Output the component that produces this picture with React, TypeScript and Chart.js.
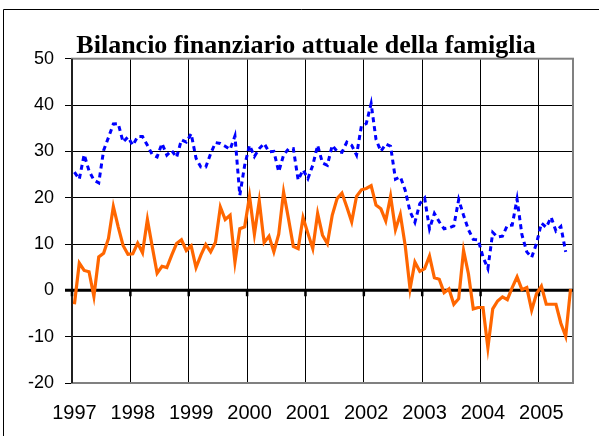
import React, { useEffect, useRef } from "react";
import { Chart, registerables } from "chart.js";

Chart.register(...registerables);

const TITLE = "Bilancio finanziario attuale della famiglia";
const YEAR_LABELS = ["1997", "1998", "1999", "2000", "2001", "2002", "2003", "2004", "2005"];
const MONTHS_PER_YEAR = 12;
const X_MAX_MONTHS = 103;
const Y_MIN = -20;
const Y_MAX = 50;
const Y_STEP = 10;

// monthly values from Jan 1997
const blueSeries = [
  25.5, 24.0, 29.3, 25.8, 23.8, 23.2, 30.2, 33.0, 35.9, 36.0, 32.0, 33.1,
  31.3, 33.2, 33.2, 31.3, 29.3, 28.8, 31.7, 29.2, 30.2, 28.7, 32.5, 32.0,
  33.8, 28.5, 26.6, 26.6, 29.5, 31.9, 31.7, 31.1, 30.4, 33.3, 20.5, 27.0,
  31.3, 28.9, 30.6, 31.7, 29.9, 30.0, 25.6, 29.2, 30.5, 30.6, 23.8, 26.0,
  24.1, 27.0, 31.3, 27.5, 27.0, 31.3, 30.0, 29.8, 32.0, 31.3, 29.2, 35.5,
  36.0, 40.3, 32.6, 30.0, 31.6, 31.1, 24.0, 24.5, 21.6, 17.0, 14.7, 18.7,
  19.9, 13.3, 16.6, 14.8, 13.3, 13.5, 13.9, 19.6, 16.2, 13.1, 11.0, 10.9,
  7.2, 4.7, 12.5, 11.5, 11.7, 14.0, 14.1, 19.7, 12.0, 8.3, 7.1, 10.1,
  14.5, 13.6, 15.8, 12.8, 13.8, 8.3,
];

const orangeSeries = [
  -3.0, 5.9, 4.3, 4.0, -1.3, 7.2, 8.0, 11.2, 18.1, 13.7, 9.7, 7.8,
  7.9, 10.2, 8.1, 15.3, 9.4, 3.7, 5.2, 4.9, 7.6, 10.1, 10.9, 8.6,
  9.6, 4.9, 7.6, 9.9, 8.3, 10.4, 18.0, 15.3, 16.2, 6.1, 13.3, 13.7,
  20.3, 12.1, 19.3, 10.3, 11.7, 8.3, 12.1, 21.2, 15.5, 9.5, 9.0, 15.7,
  12.3, 9.0, 16.6, 11.9, 10.1, 16.2, 19.8, 21.0, 18.0, 14.8, 20.3, 21.7,
  22.0, 22.6, 18.4, 17.6, 15.0, 20.3, 13.1, 16.4, 9.7, 0.3, 6.1, 4.1,
  4.7, 7.4, 2.7, 2.4, -0.5, 0.3, -3.0, -1.8, 8.6, 3.6, -4.0, -3.7,
  -3.7, -12.4, -4.0, -2.3, -1.4, -2.0, 0.6, 2.9, 0.15, 0.6, -4.3, -0.7,
  0.9, -3.0, -3.0, -3.0, -7.1, -9.9, 0.3,
];

const toPoints = (values: number[]) => values.map((v, i) => ({ x: i + 0.5, y: v }));

const framePlugin = {
  id: "frameAndAxes",
  beforeDraw(chart: any) {
    const ctx = chart.ctx;
    ctx.save();
    ctx.fillStyle = "#ffffff";
    ctx.fillRect(0, 0, chart.width, chart.height);
    ctx.strokeStyle = "#000000";
    ctx.lineWidth = 1;
    ctx.beginPath();
    ctx.moveTo(3.5, chart.height);
    ctx.lineTo(3.5, 9.5);
    ctx.lineTo(chart.width, 9.5);
    ctx.stroke();
    ctx.restore();
  },
  beforeDatasetsDraw(chart: any) {
    const { ctx, chartArea: a, scales } = chart;
    const y0 = scales.y.getPixelForValue(0);
    ctx.save();
    ctx.strokeStyle = "#808080";
    ctx.lineWidth = 2;
    ctx.strokeRect(a.left, a.top, a.right - a.left, a.bottom - a.top);
    ctx.strokeStyle = "#000000";
    ctx.lineWidth = 1.5;
    ctx.beginPath();
    ctx.moveTo(a.left, a.top);
    ctx.lineTo(a.left, a.bottom);
    ctx.stroke();
    ctx.lineWidth = 3;
    ctx.beginPath();
    ctx.moveTo(a.left - 7, y0);
    ctx.lineTo(a.right, y0);
    ctx.stroke();
    ctx.lineWidth = 2.5;
    ctx.beginPath();
    scales.x.ticks.forEach((t: any) => {
      const px = scales.x.getPixelForValue(t.value);
      ctx.moveTo(px, y0);
      ctx.lineTo(px, y0 + 6);
    });
    ctx.stroke();
    ctx.restore();
  },
  afterDraw(chart: any) {
    const ctx = chart.ctx;
    ctx.save();
    ctx.fillStyle = "#000000";
    ctx.font = 'bold 26px "Liberation Serif", "Times New Roman", serif';
    ctx.textAlign = "center";
    ctx.textBaseline = "alphabetic";
    ctx.fillText(TITLE, 306, 53);
    ctx.restore();
  },
};

export default function App() {
  const ref = useRef<HTMLCanvasElement>(null);
  useEffect(() => {
    const canvas = ref.current!;
    const chart = new Chart(canvas, {
      type: "line",
      data: {
        datasets: [
          {
            label: "Bilancio attuale",
            data: toPoints(orangeSeries),
            borderColor: "#FF6600",
            borderWidth: 3.2,
            pointRadius: 0,
            fill: false,
            tension: 0,
          },
          {
            label: "Saldo",
            data: toPoints(blueSeries),
            borderColor: "#0000FF",
            borderWidth: 3,
            borderDash: [5, 4],
            borderCapStyle: "butt",
            pointRadius: 0,
            fill: false,
            tension: 0,
          },
        ],
      },
      options: {
        responsive: false,
        animation: false,
        layout: { padding: { left: 0, right: 26, top: 58.7, bottom: 0 } },
        plugins: {
          legend: { display: false },
          title: { display: false },
          tooltip: { enabled: false },
        },
        scales: {
          x: {
            type: "linear",
            min: 0,
            max: X_MAX_MONTHS,
            afterBuildTicks: (axis: any) => {
              axis.ticks = YEAR_LABELS.map((_, k) => ({ value: k * MONTHS_PER_YEAR }));
            },
            afterFit: (axis: any) => {
              axis.height = 53;
            },
            grid: { color: "#000000", lineWidth: 1, drawTicks: false },
            border: { display: false },
            ticks: {
              autoSkip: false,
              maxRotation: 0,
              padding: 18,
              labelOffset: 2.4,
              color: "#000000",
              font: { family: '"Liberation Sans", Arial, sans-serif', size: 20 },
              callback: (v: any) => YEAR_LABELS[Math.round(Number(v) / MONTHS_PER_YEAR)] ?? "",
            },
          },
          y: {
            min: Y_MIN,
            max: Y_MAX,
            afterFit: (axis: any) => {
              axis.width = 72;
            },
            grid: { color: "#000000", lineWidth: 1, tickLength: 7, tickColor: "#000000" },
            border: { display: false },
            ticks: {
              stepSize: Y_STEP,
              padding: 11,
              color: "#000000",
              font: { family: '"Liberation Sans", Arial, sans-serif', size: 18 },
            },
          },
        },
      },
      plugins: [framePlugin],
    });
    return () => chart.destroy();
  }, []);
  return (
    <div style={{ position: "fixed", left: 0, top: 0, width: 599, height: 436, background: "#fff" }}>
      <canvas ref={ref} width={599} height={436} style={{ display: "block" }} />
    </div>
  );
}
